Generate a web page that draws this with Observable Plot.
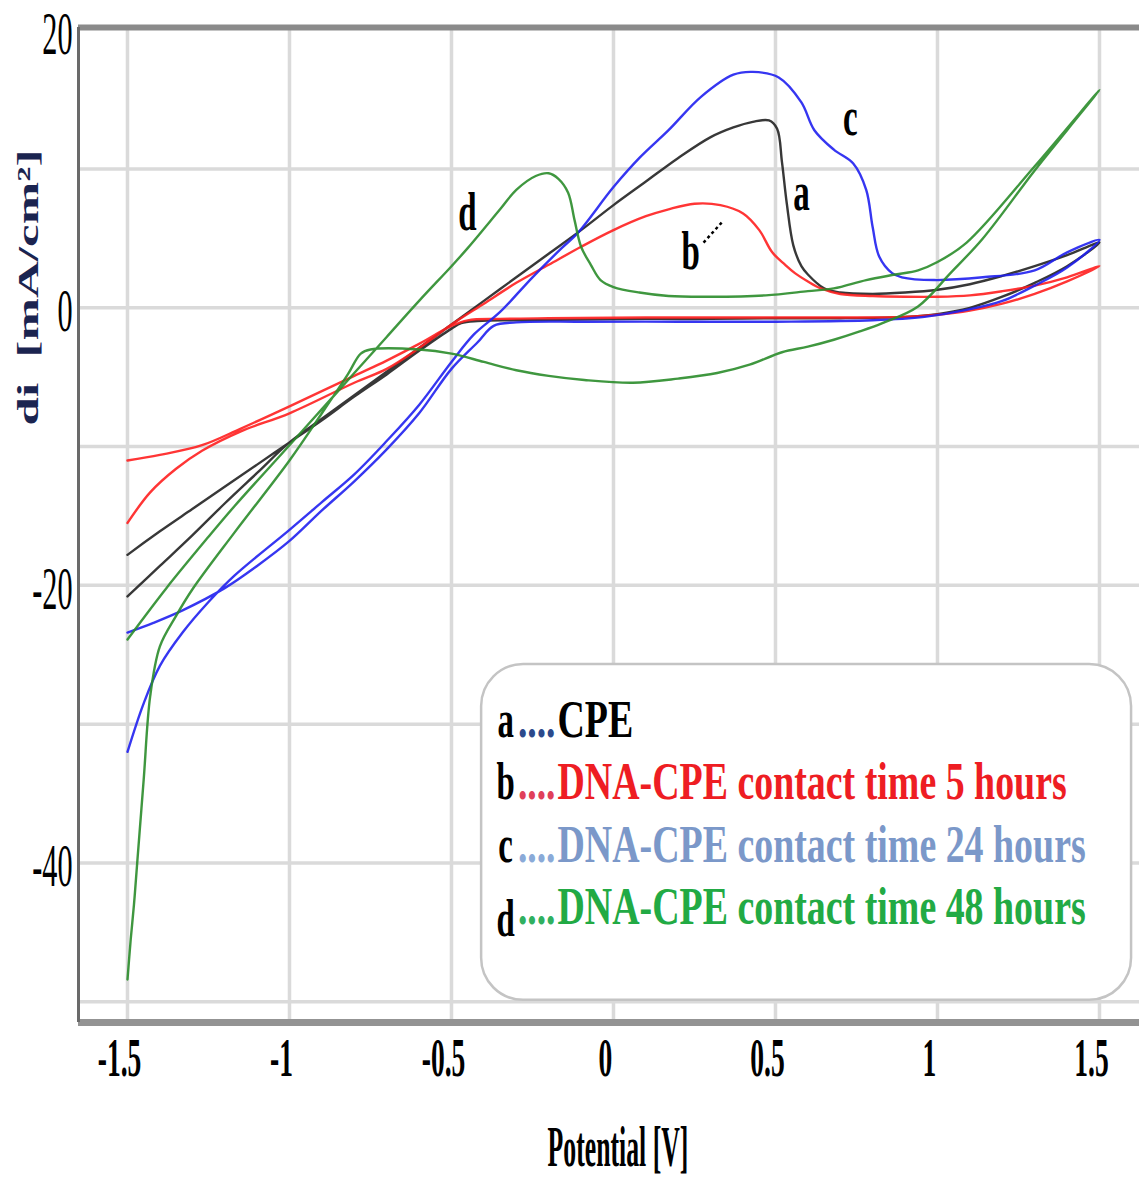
<!DOCTYPE html>
<html><head><meta charset="utf-8">
<script src="https://cdn.jsdelivr.net/npm/d3@7"></script>
<script src="https://cdn.jsdelivr.net/npm/@observablehq/plot@0.6"></script>
<style>body{margin:0;background:#fff}#chart svg{display:block}</style>
</head><body><div id="chart"></div>
<script>
// ---- data (potential in V, current density in mA/cm²), each curve a closed CV loop ----
const aV = [-1.5,-1.4,-1.3,-1.2,-1.1,-1.0,-0.9,-0.8,-0.7,-0.6,-0.5,-0.4,-0.3,-0.2,-0.1,0.0,0.1,0.2,0.3,0.37,0.43,0.48,0.505,0.52,0.535,0.555,0.58,0.6,0.65,0.7,0.8,0.9,1.0,1.1,1.2,1.3,1.4,1.5,
            1.4,1.3,1.2,1.1,1.0,0.9,0.7,0.5,0.3,0.1,-0.1,-0.3,-0.42,-0.47,-0.5,-0.6,-0.7,-0.8,-0.9,-1.0,-1.1,-1.2,-1.3,-1.4,-1.5];
const aI = [-20.8,-18.6,-16.4,-14.1,-11.9,-9.7,-8.0,-6.3,-4.6,-2.9,-1.2,0.5,2.2,3.9,5.6,7.4,9.1,10.8,12.3,13.0,13.4,13.5,12.9,10.5,7.5,4.5,3.0,2.4,1.4,1.1,1.0,1.1,1.3,1.7,2.3,3.0,3.8,4.7,
            3.0,1.8,0.8,0.0,-0.45,-0.65,-0.75,-0.75,-0.8,-0.8,-0.85,-0.9,-0.95,-1.1,-1.5,-3.1,-4.8,-6.4,-8.1,-9.7,-11.3,-12.9,-14.5,-16.1,-17.8];

const bV = [-1.5,-1.43,-1.35,-1.27,-1.15,-1.0,-0.8,-0.7,-0.6,-0.5,-0.4,-0.3,-0.2,-0.1,0.0,0.1,0.17,0.25,0.33,0.4,0.45,0.49,0.53,0.56,0.6,0.64,0.7,0.8,0.9,1.0,1.1,1.2,1.3,1.4,1.5,
            1.4,1.3,1.2,1.1,1.0,0.9,0.7,0.4,0.1,-0.2,-0.35,-0.45,-0.5,-0.6,-0.7,-0.8,-1.0,-1.15,-1.27,-1.4,-1.5];
const bI = [-15.5,-13.3,-11.6,-10.3,-8.9,-7.6,-5.4,-4.4,-2.9,-1.2,0.3,1.8,3.1,4.4,5.6,6.6,7.1,7.5,7.4,6.8,5.6,4.0,3.1,2.5,1.9,1.4,1.0,0.85,0.8,0.8,0.9,1.2,1.6,2.2,3.0,
            1.9,1.0,0.3,-0.2,-0.5,-0.65,-0.7,-0.7,-0.7,-0.75,-0.8,-0.9,-1.3,-2.6,-3.8,-4.9,-7.1,-8.7,-9.9,-10.6,-11.0];

const cV = [-1.5,-1.45,-1.4,-1.33,-1.25,-1.17,-1.0,-0.9,-0.8,-0.7,-0.6,-0.5,-0.43,-0.35,-0.25,-0.16,-0.11,0.0,0.08,0.17,0.27,0.37,0.43,0.51,0.58,0.62,0.68,0.74,0.78,0.80,0.82,0.86,0.89,0.99,1.14,1.30,1.40,1.50,
            1.4,1.3,1.2,1.09,0.96,0.8,0.5,0.2,-0.1,-0.3,-0.37,-0.42,-0.5,-0.6,-0.7,-0.8,-0.9,-1.0,-1.1,-1.2,-1.33,-1.42,-1.5];
const cI = [-32.0,-28.5,-25.8,-23.4,-21.2,-19.3,-16.0,-14.0,-12.0,-9.6,-7.0,-3.9,-1.9,-0.3,2.2,4.3,5.4,8.7,10.8,12.8,15.2,16.8,17.0,16.6,14.8,12.8,11.4,10.4,8.5,5.8,3.7,2.5,2.2,2.0,2.2,2.7,4.0,4.9,
            2.9,1.6,0.5,-0.15,-0.65,-0.9,-1.0,-1.0,-1.0,-1.05,-1.3,-2.5,-4.4,-7.6,-10.2,-12.5,-14.6,-16.8,-18.6,-20.2,-21.8,-22.7,-23.4];

const dV = [-1.5,-1.49,-1.48,-1.47,-1.45,-1.43,-1.40,-1.35,-1.30,-1.17,-1.0,-0.9,-0.82,-0.78,-0.75,-0.6,-0.5,-0.4,-0.3,-0.2,-0.09,0.06,0.2,0.32,0.42,0.52,0.6,0.68,0.76,0.83,0.94,1.04,1.14,1.3,1.4,1.5,
            1.3,1.09,1.0,0.94,0.87,0.78,0.68,0.6,0.47,0.3,0.17,0.08,0.0,-0.04,-0.07,-0.10,-0.12,-0.14,-0.17,-0.20,-0.24,-0.30,-0.35,-0.45,-0.5,-0.6,-0.7,-0.8,-0.9,-1.0,-1.17,-1.25,-1.38,-1.5];
const dI = [-48.4,-45.5,-43.0,-40.0,-34.0,-28.0,-24.4,-22.2,-20.3,-16.2,-11.0,-7.6,-4.8,-3.3,-3.0,-3.0,-3.3,-3.9,-4.5,-4.9,-5.2,-5.4,-5.1,-4.7,-4.1,-3.2,-2.8,-2.3,-1.7,-1.1,0.1,2.5,5.0,9.9,12.8,15.7,
            10.2,4.7,3.3,2.7,2.4,2.0,1.4,1.2,0.9,0.8,0.85,1.1,1.5,2.0,3.1,4.4,6.3,8.3,9.3,9.7,9.5,8.5,7.1,4.3,3.0,0.5,-2.1,-4.7,-7.3,-9.9,-14.3,-16.5,-20.2,-23.9];

const seriesKeys   = ["a","b","c","d"];
const seriesNames  = ["CPE","DNA-CPE contact time 5 hours","DNA-CPE contact time 24 hours","DNA-CPE contact time 48 hours"];
const lineColors   = ["#222222","#ff1f1f","#2020f0","#2a8c2a"];
const legendColors = ["#000000","#ee1d23","#7b98c9","#22aa44"];
const dotColors    = ["#2c4a8c","#e0405a","#8aaad8","#30b060"];

const xTicks = [-1.5,-1,-0.5,0,0.5,1,1.5];
const xTickLabels = ["-1.5","-1","-0.5","0","0.5","1","1.5"];
const yGrid = [-50,-40,-30,-20,-10,0,10];
const yTicks = [20,0,-20,-40];
const yTickLabels = ["20","0","-20","-40"];

// curve annotations (letter placed next to its curve)
const annKeys = ["a","b","c","d"];
const annV = [0.58, 0.238, 0.731, -0.451];
const annI = [8.3, 4.1, 13.7, 6.9];

// ---- build tables ----
const curves = [[aV,aI],[bV,bI],[cV,cI],[dV,dI]];
const rows = curves.flatMap(([V,I],k) => V.map((v,i) => ({key: seriesKeys[k], V: v, I: I[i]})));
const ann = annKeys.map((k,i) => ({k, V: annV[i], I: annI[i]}));

// layout
const W = 1139, H = 1178;
const xDom = [-1.6512, 1.6235], yDom = [-51.5, 20.2];
const legendBox = {x1: -0.407, x2: 1.599, y1: -25.7, y2: -49.9};
const legendRowI = [-30.9, -35.4, -39.9, -44.4];
const legendKeyI = [-30.9, -35.4, -39.9, -45.3];
const legendRows = seriesKeys.map((k,i) => ({k, name: seriesNames[i], color: legendColors[i], dot: dotColors[i], I: legendRowI[i], Ik: legendKeyI[i]}));
const serif = "'Liberation Serif','Times New Roman',serif";

const plot = Plot.plot({
  width: W, height: H,
  marginLeft: 78, marginRight: 0, marginTop: 27, marginBottom: 156,
  x: {domain: xDom, axis: null},
  y: {domain: yDom, axis: null},
  color: {domain: seriesKeys, range: lineColors},
  style: {background: "#fff", fontFamily: serif, overflow: "visible"},
  marks: [
    Plot.ruleX(xTicks, {stroke: "#dadada", strokeWidth: 3.5}),
    Plot.ruleY(yGrid, {stroke: "#dadada", strokeWidth: 3.5}),
    Plot.rect([legendBox], {x1: "x1", x2: "x2", y1: "y1", y2: "y2", rx: 42, fill: "#fff", stroke: "#c4c4c4", strokeWidth: 2.5}),
    Plot.line(rows, {x: "V", y: "I", z: "key", stroke: "key", strokeWidth: 2.4, strokeOpacity: 0.9, curve: "catmull-rom"}),
    // frame lines
    Plot.ruleY([yDom[1]], {stroke: "#8a8a8a", strokeWidth: 6}),
    Plot.ruleY([yDom[0]], {stroke: "#939393", strokeWidth: 7}),
    Plot.ruleX([xDom[0]], {stroke: "#6a6a6a", strokeWidth: 3}),
    // annotations
    Plot.text(ann, {x: "V", y: "I", text: "k", fontSize: 55, fontWeight: "bold", fill: "#000", ariaDescription: "ann"}),
    Plot.link([{x1: 0.278, y1: 4.7, x2: 0.336, y2: 6.2}], {x1: "x1", y1: "y1", x2: "x2", y2: "y2", stroke: "#000", strokeWidth: 2.5, strokeDasharray: "3,3"}),
    // legend
    Plot.text(legendRows, {x: () => -0.333, y: "Ik", text: "k", lineAnchor: "bottom", fontSize: 53, fontWeight: "bold", fill: "#000", ariaDescription: "legkey"}),
    Plot.text(legendRows, {x: () => -0.295, y: "I", text: () => "....", textAnchor: "start", lineAnchor: "bottom", fontSize: 53, fontWeight: "bold", fill: "dot", ariaDescription: "legdots"}),
    Plot.text(legendRows, {x: () => -0.173, y: "I", text: "name", textAnchor: "start", lineAnchor: "bottom", fontSize: 53, fontWeight: "bold", fill: "color", ariaDescription: "leglabel"}),
    // tick labels
    Plot.text(xTicks, {x: d => d, text: (d,i) => xTickLabels[i], frameAnchor: "bottom", lineAnchor: "bottom", dy: 53, dx: -8, fontSize: 55, fontWeight: "bold", fill: "#000", ariaDescription: "xticks"}),
    Plot.text(yTicks, {y: d => d, text: (d,i) => yTickLabels[i], frameAnchor: "left", lineAnchor: "middle", dx: -6, dy: 4, textAnchor: "end", fontSize: 56, fill: "#000", ariaDescription: "yticks"}),
    // axis titles
    Plot.text(["Potential [V]"], {frameAnchor: "bottom", textAnchor: "middle", lineAnchor: "bottom", dx: 9, dy: 143, fontSize: 56, fontWeight: "bold", fill: "#000", ariaDescription: "xtitle"}),
    Plot.text(["di  [mA/cm²]"], {frameAnchor: "top-left", textAnchor: "middle", lineAnchor: "middle", dx: -50, dy: 260, rotate: -90, fontSize: 30, fontWeight: "bold", fill: "#1b2450", ariaDescription: "ytitle"})
  ]
});

function squeeze(svg, label, sx, sy) {
  svg.querySelectorAll(`[aria-description="${label}"] text`).forEach(t => {
    let tr = t.getAttribute("transform");
    if (!tr) {
      const x = t.getAttribute("x") || 0, y = t.getAttribute("y") || 0;
      t.removeAttribute("x"); t.removeAttribute("y");
      tr = `translate(${x},${y})`;
    }
    t.setAttribute("transform", `${tr} scale(${sx},${sy})`);
  });
}
squeeze(plot, "ann", 0.6, 1);
squeeze(plot, "legkey", 0.62, 1);
squeeze(plot, "legdots", 0.71, 1);
squeeze(plot, "leglabel", 0.715, 1);
squeeze(plot, "xticks", 0.5, 1);
squeeze(plot, "yticks", 0.54, 1.08);
squeeze(plot, "xtitle", 0.46, 1);
squeeze(plot, "ytitle", 1.7, 1);

document.getElementById("chart").appendChild(plot);
</script>
</body></html>
